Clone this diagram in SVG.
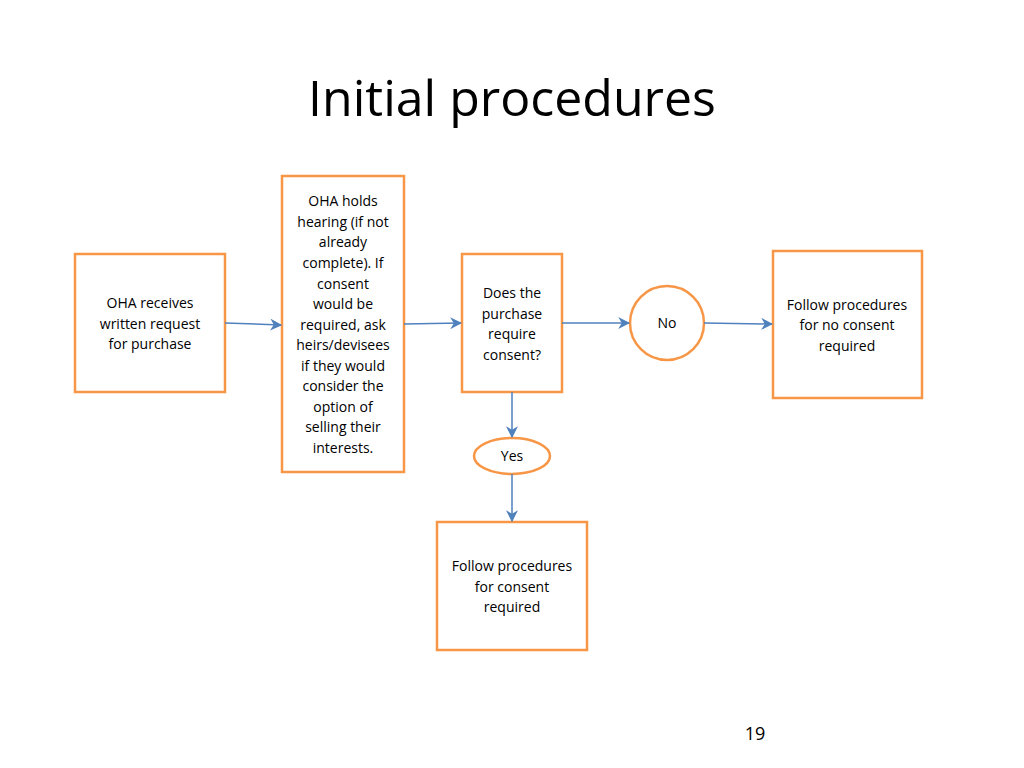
<svg xmlns="http://www.w3.org/2000/svg" width="1024" height="768" viewBox="0 0 1024 768">
<style>
.n{fill:#fff;stroke:#F79646;stroke-width:2.5}
.t{font-family:"Open Sans","Liberation Sans",sans-serif;font-size:14px;fill:#000;text-anchor:middle}
.c{stroke:#4F81BD;stroke-width:1.5;fill:none;marker-end:url(#a)}
</style>
<defs><marker id="a" viewBox="0 0 10 10" refX="9" refY="5" markerWidth="8" markerHeight="8" orient="auto"><path d="M0,0 L10,5 L0,10 L3,5 Z" fill="#4F81BD"/></marker></defs>
<rect width="1024" height="768" fill="#fff"/>
<text x="512" y="116" font-family="'Open Sans','Liberation Sans',sans-serif" font-size="50" text-anchor="middle">Initial procedures</text>
<g id="n1"><rect class="n" x="75" y="254" width="150" height="138"/>
<text class="t"><tspan x="150" y="308">OHA receives</tspan><tspan x="150" y="329">written request</tspan><tspan x="150" y="349">for purchase</tspan></text></g>
<g id="n2"><rect class="n" x="282" y="176" width="122" height="296"/>
<text class="t"><tspan x="343" y="206">OHA holds</tspan><tspan x="343" y="227">hearing (if not</tspan><tspan x="343" y="247">already</tspan><tspan x="343" y="268">complete).  If</tspan><tspan x="343" y="289">consent</tspan><tspan x="343" y="309">would be</tspan><tspan x="343" y="330">required, ask</tspan><tspan x="343" y="350">heirs/devisees</tspan><tspan x="343" y="371">if they would</tspan><tspan x="343" y="391">consider the</tspan><tspan x="343" y="412">option of</tspan><tspan x="343" y="432">selling their</tspan><tspan x="343" y="453">interests.</tspan></text></g>
<g id="n3"><rect class="n" x="462" y="254" width="100" height="138"/>
<text class="t"><tspan x="512" y="298">Does the</tspan><tspan x="512" y="319">purchase</tspan><tspan x="512" y="339">require</tspan><tspan x="512" y="360">consent?</tspan></text></g>
<g id="n4"><circle class="n" cx="667" cy="323" r="37"/><text class="t" x="667" y="328">No</text></g>
<g id="n5"><rect class="n" x="773" y="251" width="149" height="147"/>
<text class="t"><tspan x="847" y="310">Follow procedures</tspan><tspan x="847" y="330">for no consent</tspan><tspan x="847" y="351">required</tspan></text></g>
<g id="n6"><ellipse class="n" cx="512" cy="456" rx="38" ry="18"/><text class="t" x="512" y="461">Yes</text></g>
<g id="n7"><rect class="n" x="437" y="522" width="150" height="128"/>
<text class="t"><tspan x="512" y="571">Follow procedures</tspan><tspan x="512" y="592">for consent</tspan><tspan x="512" y="612">required</tspan></text></g>
<g id="connectors">
<path class="c" d="M225,323 L281,325"/>
<path class="c" d="M404,324 L461,323"/>
<path class="c" d="M562,323 L629,323"/>
<path class="c" d="M704,323 L772,324"/>
<path class="c" d="M512,392 L512,437"/>
<path class="c" d="M512,474 L512,521"/>
</g>
<text x="755" y="740" font-family="'Open Sans','Liberation Sans',sans-serif" font-size="18" text-anchor="middle">19</text>
</svg>
